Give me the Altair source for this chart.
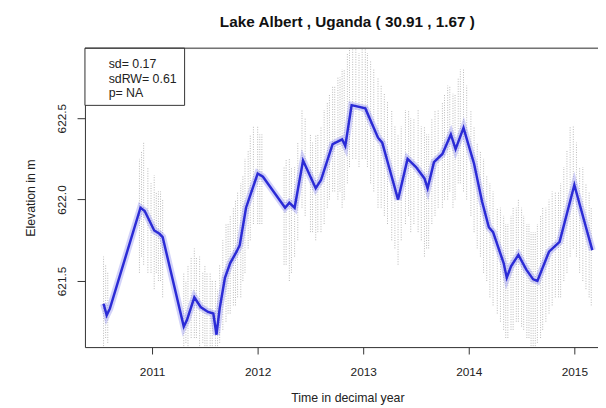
import altair as alt
import pandas as pd

# ---- data ----
line_year = [2010.54, 2010.57, 2010.60, 2010.89, 2010.93, 2011.02, 2011.07, 2011.10,
             2011.30, 2011.33, 2011.40, 2011.46, 2011.53, 2011.58, 2011.61, 2011.64,
             2011.69, 2011.74, 2011.80, 2011.83, 2011.89, 2012.00, 2012.05, 2012.26,
             2012.30, 2012.35, 2012.43, 2012.55, 2012.60, 2012.71, 2012.80, 2012.83,
             2012.89, 2013.02, 2013.14, 2013.18, 2013.27, 2013.33, 2013.42, 2013.50,
             2013.58, 2013.61, 2013.67, 2013.75, 2013.83, 2013.875, 2013.95, 2014.05,
             2014.125, 2014.19, 2014.23, 2014.33, 2014.36, 2014.40, 2014.47, 2014.545,
             2014.61, 2014.65, 2014.76, 2014.86, 2015.00, 2015.11, 2015.17]
line_elev = [621.36, 621.29, 621.33, 621.95, 621.93, 621.81, 621.79, 621.77,
             621.22, 621.26, 621.40, 621.34, 621.31, 621.30, 621.17, 621.33,
             621.52, 621.61, 621.68, 621.72, 621.95, 622.16, 622.14, 621.95,
             621.98, 621.95, 622.24, 622.07, 622.12, 622.34, 622.37, 622.33,
             622.58, 622.56, 622.38, 622.35, 622.14, 622.00, 622.25, 622.20,
             622.13, 622.07, 622.23, 622.28, 622.40, 622.31, 622.44, 622.22,
             621.99, 621.83, 621.80, 621.61, 621.52, 621.59, 621.66, 621.57,
             621.51, 621.50, 621.68, 621.74, 622.09, 621.83, 621.69]

# vertical streaks of individual altimetry heights (first set of passes)
span_year = [2010.54, 2010.58, 2010.88, 2010.92, 2010.96, 2011.02, 2011.06, 2011.10,
             2011.30, 2011.34, 2011.40, 2011.45, 2011.50, 2011.55, 2011.60, 2011.64,
             2011.70, 2011.74, 2011.79, 2011.84, 2011.88, 2011.93, 2012.00, 2012.04,
             2012.25, 2012.30, 2012.35, 2012.42, 2012.50, 2012.55, 2012.60, 2012.66,
             2012.71, 2012.76, 2012.80, 2012.85, 2012.90, 2012.96, 2013.02, 2013.07,
             2013.14, 2013.20, 2013.27, 2013.33, 2013.40, 2013.45, 2013.52, 2013.58,
             2013.62, 2013.68, 2013.75, 2013.80, 2013.85, 2013.90, 2013.95, 2014.02,
             2014.08, 2014.14, 2014.20, 2014.27, 2014.33, 2014.37, 2014.42, 2014.47,
             2014.52, 2014.57, 2014.61, 2014.65, 2014.70, 2014.76, 2014.82, 2014.87,
             2014.93, 2014.99, 2015.05, 2015.11, 2015.16]
span_low = [621.10, 621.12, 621.55, 621.60, 621.55, 621.45, 621.50, 621.40,
            621.10, 621.10, 621.15, 621.10, 621.10, 621.10, 621.10, 621.12,
            621.25, 621.30, 621.35, 621.40, 621.55, 621.75, 621.85, 621.85,
            621.60, 621.50, 621.65, 621.95, 621.80, 621.75, 621.80, 621.95,
            622.05, 622.00, 621.95, 622.10, 622.25, 622.20, 622.25, 622.10,
            621.95, 621.90, 621.75, 621.60, 621.85, 621.80, 621.80, 621.65,
            621.70, 621.90, 621.95, 622.00, 621.95, 622.10, 622.05, 621.90,
            621.70, 621.55, 621.40, 621.30, 621.20, 621.15, 621.20, 621.25,
            621.20, 621.15, 621.10, 621.12, 621.20, 621.30, 621.40, 621.40,
            621.55, 621.70, 621.55, 621.45, 621.35]
span_high = [621.65, 621.55, 622.25, 622.35, 622.20, 622.15, 622.05, 622.00,
             621.55, 621.60, 621.70, 621.65, 621.60, 621.55, 621.50, 621.60,
             621.85, 621.90, 622.00, 622.10, 622.25, 622.40, 622.45, 622.40,
             622.20, 622.25, 622.20, 622.55, 622.40, 622.40, 622.45, 622.60,
             622.70, 622.75, 622.80, 622.90, 622.93, 622.90, 622.93, 622.85,
             622.75, 622.65, 622.55, 622.40, 622.55, 622.50, 622.55, 622.45,
             622.40, 622.55, 622.60, 622.70, 622.65, 622.75, 622.80, 622.55,
             622.35, 622.25, 622.10, 621.95, 621.90, 621.85, 621.95, 622.00,
             621.90, 621.85, 621.80, 621.85, 621.95, 622.00, 622.05, 622.10,
             622.30, 622.45, 622.20, 622.10, 621.95]

# second set of passes, in between the first
span2_year = [2010.56, 2010.90, 2010.99, 2011.04, 2011.08, 2011.32, 2011.37, 2011.42,
              2011.48, 2011.52, 2011.57, 2011.62, 2011.67, 2011.72, 2011.77, 2011.81,
              2011.86, 2011.91, 2011.96, 2012.02, 2012.27, 2012.32, 2012.38, 2012.45,
              2012.52, 2012.57, 2012.63, 2012.68, 2012.73, 2012.78, 2012.82, 2012.87,
              2012.93, 2012.99, 2013.04, 2013.10, 2013.17, 2013.23, 2013.30, 2013.36,
              2013.43, 2013.48, 2013.55, 2013.60, 2013.65, 2013.71, 2013.77, 2013.82,
              2013.87, 2013.92, 2013.98, 2014.05, 2014.11, 2014.17, 2014.23, 2014.30,
              2014.35, 2014.40, 2014.45, 2014.50, 2014.55, 2014.59, 2014.63, 2014.68,
              2014.73, 2014.79, 2014.85, 2014.90, 2014.96, 2015.02, 2015.08, 2015.14]
span2_low = [621.15, 621.65, 621.55, 621.55, 621.50, 621.12, 621.15, 621.15,
             621.12, 621.10, 621.10, 621.10, 621.20, 621.30, 621.35, 621.40,
             621.50, 621.70, 621.85, 621.85, 621.60, 621.55, 621.75, 621.90,
             621.80, 621.80, 621.85, 622.00, 622.05, 622.05, 622.00, 622.20,
             622.25, 622.25, 622.20, 622.05, 621.95, 621.85, 621.70, 621.75,
             621.90, 621.85, 621.75, 621.70, 621.85, 621.95, 622.00, 622.05,
             622.00, 622.10, 622.00, 621.80, 621.65, 621.50, 621.35, 621.25,
             621.15, 621.20, 621.25, 621.22, 621.15, 621.10, 621.10, 621.15,
             621.25, 621.35, 621.40, 621.50, 621.65, 621.65, 621.50, 621.40]
span2_high = [621.60, 622.30, 622.10, 622.05, 622.05, 621.50, 621.65, 621.65,
              621.55, 621.55, 621.50, 621.45, 621.75, 621.85, 621.95, 622.05,
              622.15, 622.30, 622.45, 622.40, 622.25, 622.20, 622.35, 622.50,
              622.35, 622.40, 622.55, 622.65, 622.70, 622.75, 622.80, 622.93,
              622.93, 622.93, 622.90, 622.80, 622.70, 622.60, 622.45, 622.45,
              622.55, 622.50, 622.45, 622.40, 622.50, 622.55, 622.65, 622.70,
              622.65, 622.80, 622.70, 622.45, 622.30, 622.15, 622.05, 621.95,
              621.85, 621.90, 621.95, 621.95, 621.85, 621.80, 621.80, 621.90,
              621.95, 622.05, 622.05, 622.20, 622.45, 622.35, 622.20, 622.05]

x_ticks = [2011, 2012, 2013, 2014, 2015]
y_ticks = [621.5, 622.0, 622.5]
title_text = "Lake Albert , Uganda ( 30.91 , 1.67 )"
x_title = "Time in decimal year"
y_title = "Elevation in m"
legend_lines = ["sd= 0.17", "sdRW= 0.61", "p= NA"]

X_DOMAIN = [2010.364, 2015.224]
Y_DOMAIN = [621.094, 622.930]
W, H = 520, 303
FONT = "Liberation Sans"
AX = "#333333"

line_df = pd.DataFrame({"year": line_year, "elev": line_elev})
span_df = pd.DataFrame({"year": span_year + span2_year,
                        "low": span_low + span2_low,
                        "high": span_high + span2_high})
one_df = pd.DataFrame({"k": [0]})

xs = alt.Scale(domain=X_DOMAIN, nice=False, zero=False)
ys = alt.Scale(domain=Y_DOMAIN, nice=False, zero=False)

xaxis = alt.Axis(values=x_ticks, format="d", title=x_title, grid=False,
                 tickSize=7, tickColor=AX, domainColor=AX, labelColor="#222",
                 labelFontSize=12, labelBaseline="middle", labelPadding=18,
                 labelFlush=False, titleFontSize=12.5, titleFontWeight="normal",
                 titleColor="#222", titleX=266, titleY=51, titleBaseline="middle",
                 titleAlign="center")
yaxis = alt.Axis(values=y_ticks, format=".1f", title=y_title, grid=False,
                 tickSize=8, tickColor=AX, domainColor=AX, labelColor="#222",
                 labelFontSize=12, labelAngle=270, labelAlign="center",
                 labelBaseline="middle", labelPadding=16, labelFlush=False,
                 titleFontSize=12.5, titleFontWeight="normal", titleColor="#222",
                 titleAngle=270, titleX=-55, titleY=151.5, titleAlign="center",
                 titleBaseline="middle")

spans = alt.Chart(span_df).mark_rule(
    color="#7c7c7c", strokeWidth=1, strokeDash=[1, 1.5], opacity=0.55
).encode(
    x=alt.X("year:Q", scale=xs, axis=xaxis),
    y=alt.Y("low:Q", scale=ys, axis=yaxis),
    y2="high:Q",
)

halo = alt.Chart(line_df).mark_line(color="#6a6aec", strokeWidth=7, opacity=0.3).encode(
    x=alt.X("year:Q", scale=xs, axis=xaxis),
    y=alt.Y("elev:Q", scale=ys, axis=yaxis),
)
core = alt.Chart(line_df).mark_line(color="#2b2bd6", strokeWidth=2.5).encode(
    x=alt.X("year:Q", scale=xs, axis=xaxis),
    y=alt.Y("elev:Q", scale=ys, axis=yaxis),
)

top_border = alt.Chart(one_df).mark_rule(color=AX, strokeWidth=1).encode(
    x=alt.value(0), x2=alt.value(W), y=alt.value(0)
)
legend_box = alt.Chart(one_df).mark_rect(fill="white", stroke=AX, strokeWidth=1).encode(
    x=alt.value(0), x2=alt.value(101), y=alt.value(0), y2=alt.value(58)
)
legend_text = alt.Chart(one_df).mark_text(
    align="left", baseline="top", fontSize=12.5, lineHeight=15, font=FONT, color="#222"
).encode(x=alt.value(24), y=alt.value(10), text=alt.value(legend_lines))

title = alt.Chart(one_df).mark_text(
    align="center", baseline="middle", fontSize=15.5, fontWeight="bold", font=FONT, color="#111"
).encode(x=alt.value(266), y=alt.value(-26), text=alt.value(title_text))

chart = alt.layer(spans, halo, core, legend_box, legend_text, top_border, title).properties(
    width=W, height=H,
    autosize=alt.AutoSizeParams(type="none"),
    padding={"left": 78, "top": 38, "right": 0, "bottom": 56},
    background="white",
).configure_view(stroke=None).configure(font=FONT)

chart.save("out.html", embed_options={"renderer": "svg", "actions": False})
